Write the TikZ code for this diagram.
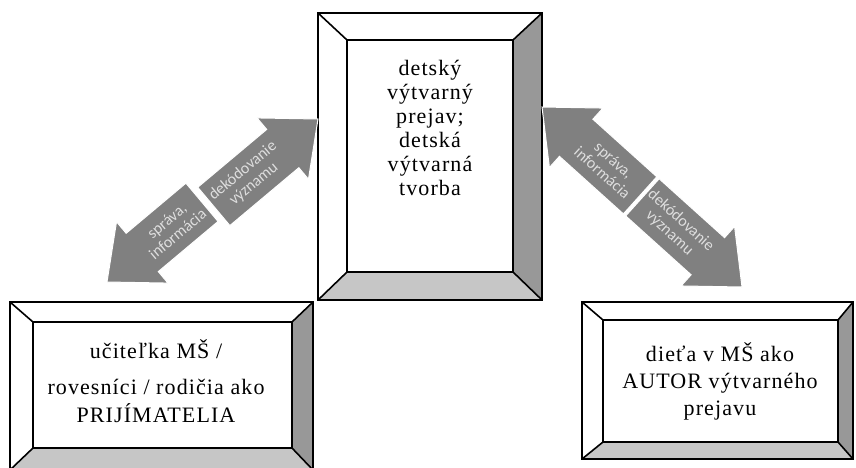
\documentclass[tikz,border=0pt]{standalone}
\usepackage{fontspec}
\setmainfont{Liberation Serif}
\newfontfamily\arrowfont{Carlito}
\definecolor{arrowgray}{RGB}{128,128,128}
\definecolor{bevelside}{RGB}{152,152,152}
\definecolor{bevelbottom}{RGB}{198,198,198}
\definecolor{labelgray}{RGB}{222,222,222}
\tikzset{
  arrowblk/.style={fill=arrowgray, draw=white, line width=1pt},
  arrowtext/.style={text=labelgray, align=center, inner sep=0pt,
    font=\arrowfont\fontsize{16}{17}\selectfont},
  boxtext/.style={align=center, inner sep=0pt,
    font=\fontsize{22}{24}\selectfont\addfontfeatures{LetterSpace=5}}
}
\begin{document}
\begin{tikzpicture}[x=1pt,y=-1pt]
        \useasboundingbox (0,0) rectangle (856,467);
        \foreach \xa/\ya/\xb/\yb/\ia/\ja/\ib/\jb in {318/13/542/300/347/40/513/272,
            10/302/313/470/33/322/292/448, 582/302/853/459/603/320/838/442}{
            \fill[bevelside] (\xb,\ya) -- (\xb,\yb) -- (\ib,\jb) -- (\ib,\ja) -- cycle;
            \fill[bevelbottom] (\xa,\yb) -- (\xb,\yb) -- (\ib,\jb) -- (\ia,\jb) -- cycle;
            \draw[line width=1.6pt] (\xa,\ya) -- (\ia,\ja) (\xb,\ya) -- (\ib,\ja)
                (\xa,\yb) -- (\ia,\jb) (\xb,\yb) -- (\ib,\jb);
            \draw[line width=2.2pt] (\xa,\ya) rectangle (\xb,\yb) (\ia,\ja) rectangle (\ib,\jb);
        }
        \node [boxtext] (work) at (430,128) {detský\\výtvarný\\prejav;\\detská\\výtvarná\\tvorba};
        \node [boxtext] (receivers) at (156,381) {učiteľka MŠ /\\[12pt]rovesníci / rodičia ako\\[4pt]PRIJÍMATELIA};
        \node [boxtext] (author) at (720,381) {dieťa v MŠ ako\\[3pt]AUTOR výtvarného\\[3pt]prejavu};
        \foreach \tx/\ty/\ang/\tang/\len/\lbl/\txt in {318/119/40/40/136/decodeL/{dekódovanie\\významu},
            107/282/220/40/124/messageL/{správa,\\informácia},
            542/107/138/-42/132/messageR/{správa,\\informácia},
            742/287/-42/-42/134/decodeR/{dekódovanie\\významu}}{
            \begin{scope}[shift={(\tx,\ty)}, rotate=\ang]
                \draw[arrowblk] (0,0) -- (-46,40) -- (-46,25) -- (-\len,25) -- (-\len,-25)
                    -- (-46,-25) -- (-46,-40) -- cycle;
                \node [arrowtext, rotate=\tang] (\lbl) at ({-(\len+46)/2},0) {\txt};
            \end{scope}
        }
    \end{tikzpicture}
\end{document}
